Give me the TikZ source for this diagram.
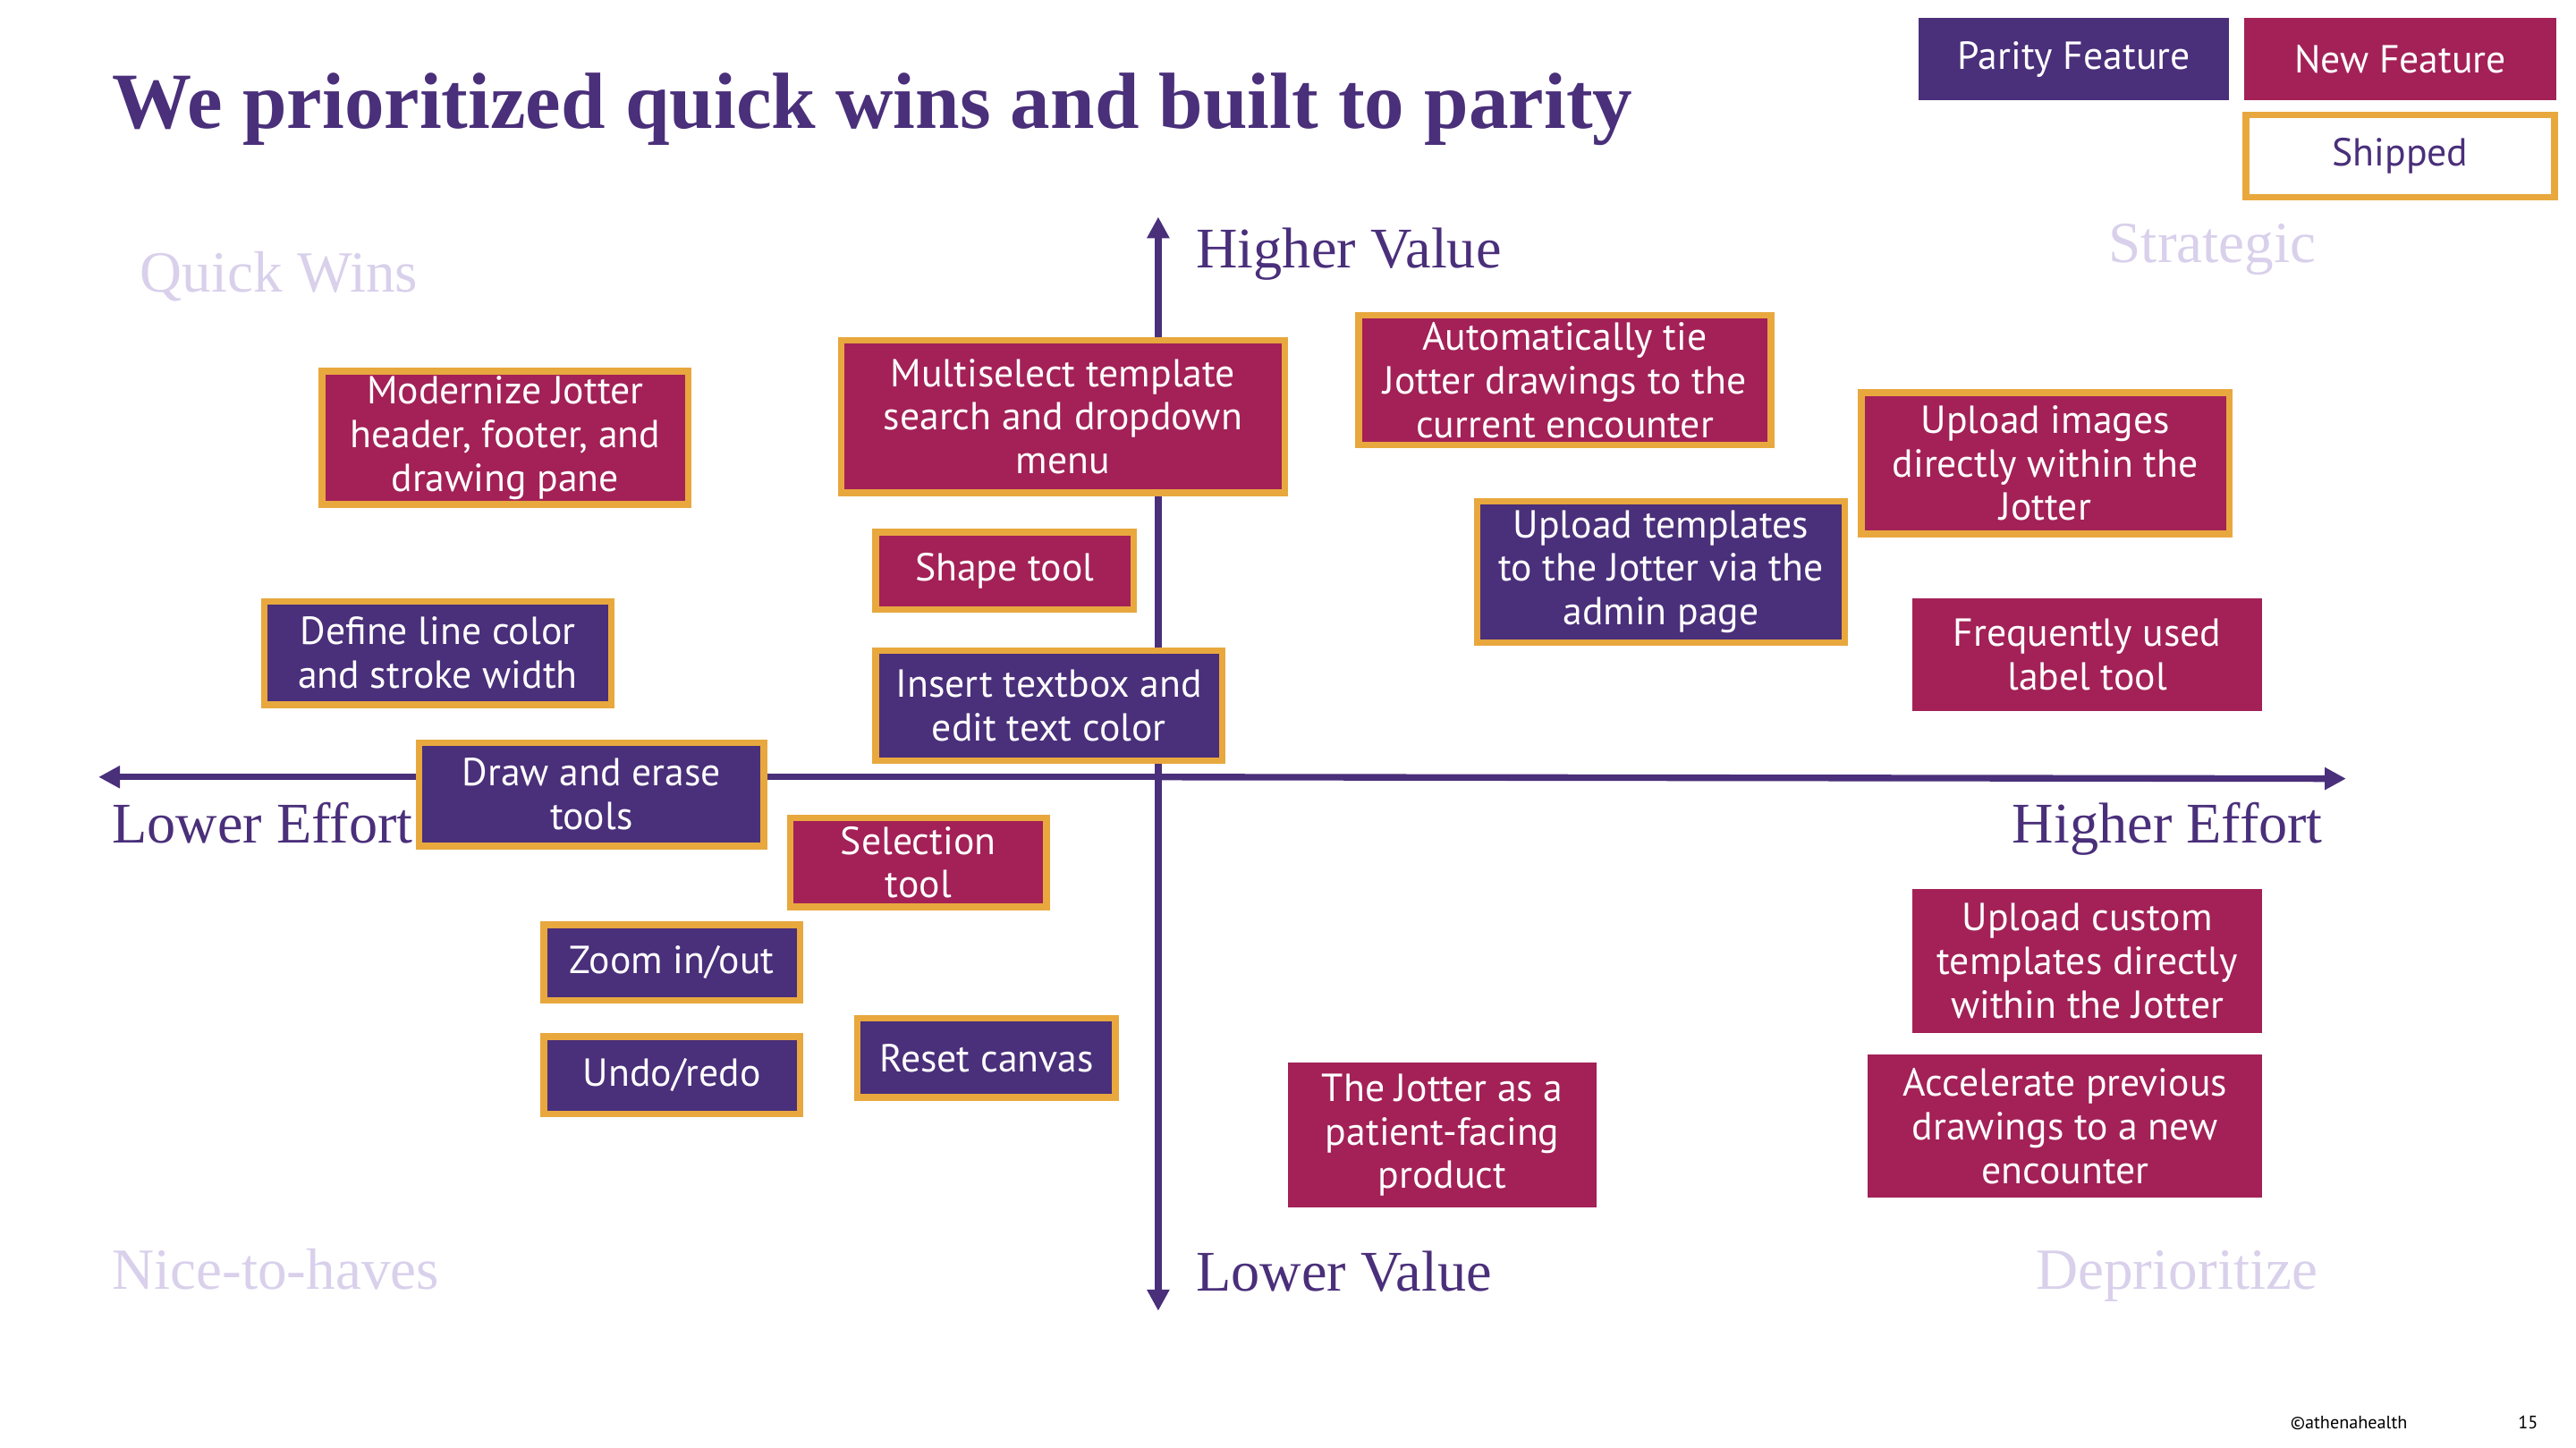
\documentclass[tikz,border=0pt]{standalone}
\usepackage{fontspec}
\usepackage{tikz}
\usetikzlibrary{arrows.meta}
\setmainfont{Liberation Serif}
\newfontfamily\boxfont{PT Sans}
\definecolor{ParityPurple}{HTML}{4A2F7A}
\definecolor{NewMagenta}{HTML}{A32157}
\definecolor{ShipOrange}{HTML}{E8A83E}
\definecolor{QuadLavender}{HTML}{D9D0EB}

\begin{document}
\begin{tikzpicture}[x=1pt, y=-1pt, every node/.style={inner sep=0pt},
  feat/.style={font=\boxfont\fontsize{23.8}{26.5}\selectfont, text=white, align=center},
  parity/.style={feat, fill=ParityPurple},
  newfeat/.style={feat, fill=NewMagenta},
  shipped/.style={draw=ShipOrange, line width=4pt},
  axis/.style={line width=4pt, ParityPurple, -{Triangle[length=13pt,width=13pt]}},
  axislabel/.style={font=\fontsize{35}{38}\selectfont, text=ParityPurple},
  quadlabel/.style={font=\fontsize{35.5}{38}\selectfont, text=QuadLavender}]
\useasboundingbox (0,0) rectangle (1568,881);

% title and legend
\node[anchor=base west, text=ParityPurple, font=\bfseries\fontsize{48.5}{54}\selectfont] (title) at (68,78) {We prioritized quick wins and built to parity};
\node[parity, minimum width=189, minimum height=50] (keyparity) at (1262.5,36) {Parity Feature};
\node[newfeat, minimum width=190, minimum height=50] (keynew) at (1461,36) {New Feature};
\node[feat, shipped, text=ParityPurple, fill=white, minimum width=188, minimum height=50] (keyship) at (1461,95) {Shipped};

% axes
\coordinate (west) at (60,473);
\coordinate (east) at (1428,474);
\coordinate (north) at (705,132);
\coordinate (south) at (705,798);
\coordinate (origin) at (705,473);
\draw[axis] (origin) -- (west);
\draw[axis] (origin) -- (east);
\draw[axis] (origin) -- (north);
\draw[axis] (origin) -- (south);

\node[axislabel, anchor=base west] (hival) at (728,163) {Higher Value};
\node[axislabel, anchor=base west] (loval) at (728,786) {Lower Value};
\node[axislabel, anchor=base west] (loeff) at (68,513) {Lower Effort};
\node[axislabel, anchor=base east] (hieff) at (1414,513) {Higher Effort};

\node[quadlabel, anchor=base west] (quick) at (85,178) {Quick Wins};
\node[quadlabel, anchor=base east] (strat) at (1410,160) {Strategic};
\node[quadlabel, anchor=base west] (nice) at (68,785) {Nice-to-haves};
\node[quadlabel, anchor=base east] (depri) at (1411,785) {Deprioritize};

% features
\node[newfeat, shipped, minimum width=223, minimum height=81] (modern) at (307.5,266.5) {Modernize Jotter\\header, footer, and\\drawing pane};
\node[newfeat, shipped, minimum width=270, minimum height=93] (multisel) at (647,253.5) {Multiselect template\\search and dropdown\\menu};
\node[newfeat, shipped, minimum width=251, minimum height=79] (autotie) at (952.5,231.5) {Automatically tie\\Jotter drawings to the\\current encounter};
\node[newfeat, shipped, minimum width=224, minimum height=86] (uplimg) at (1245,282) {Upload images\\directly within the\\Jotter};
\node[parity, shipped, minimum width=224, minimum height=86] (upltmpl) at (1011,348) {Upload templates\\to the Jotter via the\\admin page};
\node[newfeat, shipped, minimum width=157, minimum height=47] (shape) at (611.5,347.5) {Shape tool};
\node[parity, shipped, minimum width=211, minimum height=63] (linecol) at (266.5,397.5) {Define line color\\and stroke width};
\node[parity, shipped, minimum width=211, minimum height=67] (textbox) at (638.5,429.5) {Insert textbox and\\edit text color};
\node[newfeat, minimum width=213, minimum height=69] (labeltool) at (1270.5,398.5) {Frequently used\\label tool};
\node[parity, shipped, minimum width=210, minimum height=63] (drawerase) at (360,483.5) {Draw and erase\\tools};
\node[newfeat, shipped, minimum width=156, minimum height=54] (select) at (559,525) {Selection\\tool};
\node[parity, shipped, minimum width=156, minimum height=46] (zoom) at (409,586) {Zoom in/out};
\node[parity, shipped, minimum width=156, minimum height=47] (undo) at (409,654.5) {Undo/redo};
\node[parity, shipped, minimum width=157, minimum height=48] (reset) at (600.5,644) {Reset canvas};
\node[newfeat, minimum width=188, minimum height=88] (patient) at (878,691) {The Jotter as a\\patient-facing\\product};
\node[newfeat, minimum width=213, minimum height=88] (custom) at (1270.5,585) {Upload custom\\templates directly\\within the Jotter};
\node[newfeat, minimum width=240, minimum height=87] (accel) at (1257,685.5) {Accelerate previous\\drawings to a new\\encounter};

% footer
\node[anchor=base west, font=\boxfont\fontsize{11}{13}\selectfont] (copy) at (1394,870) {©athenahealth};
\node[anchor=base east, font=\boxfont\fontsize{11}{13}\selectfont] (page) at (1545,870) {15};
\end{tikzpicture}
\end{document}
